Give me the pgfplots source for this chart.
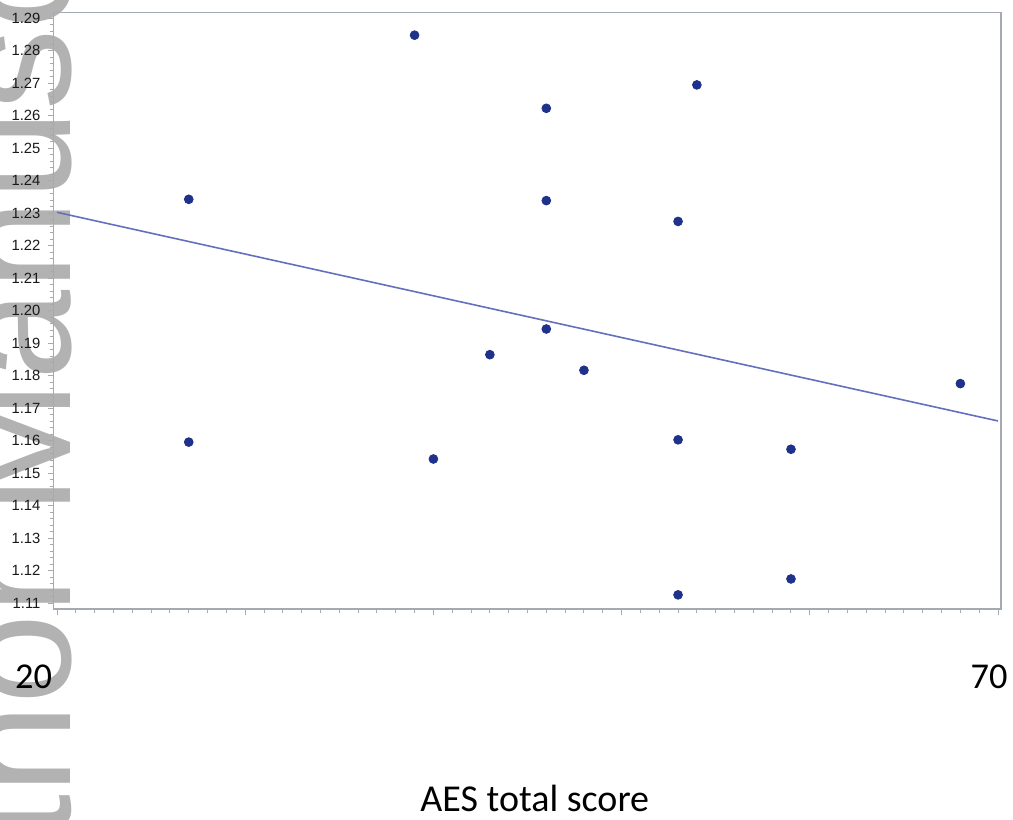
\documentclass[border=0pt]{standalone}
\usepackage{pgfplots}
\pgfplotsset{compat=1.18}
\usepackage{fontspec}
\newfontfamily\arialf{Liberation Sans}
\newfontfamily\calibrif{Carlito}

\definecolor{dotblue}{RGB}{30,50,140}
\definecolor{fitblue}{RGB}{100,112,190}
\definecolor{framegray}{RGB}{165,170,176}

\begin{document}
\begin{tikzpicture}[x=0.5pt,y=0.5pt]
  \path[use as bounding box] (0,0) rectangle (1013,820);
  \clip (0,0) rectangle (1013,820);

  % watermark behind the chart
  \node[rotate=90, anchor=base west, inner sep=0, text=black!30,
        font={\arialf\fontsize{81pt}{81pt}\selectfont}]
    at (70.5,-218) {Author Manuscript};

  \begin{axis}[
      at={(26.75pt,105.5pt)}, anchor=south west,
      scale only axis,
      width=473.75pt, height=298.15pt,
      xmin=19.814, xmax=70.16,
      ymin=1.10825, ymax=1.29172,
      axis line style={framegray, line width=0.8pt},
      tick pos=left,
      tick align=outside,
      major tick length=3pt,
      minor tick length=2pt,
      every tick/.style={framegray, line width=0.5pt},
      xtick={20,30,40,50,60,70},
      xticklabels={},
      minor x tick num=9,
      ytick distance=0.01,
      minor y tick num=4,
      yticklabel style={font={\arialf\fontsize{7.4pt}{8pt}\selectfont}, text=black!90,
        /pgf/number format/fixed, /pgf/number format/precision=2,
        /pgf/number format/fixed zerofill},
      /pgf/number format/assume math mode=true,
      xlabel={AES total score},
      xlabel style={font={\calibrif\fontsize{19pt}{21pt}\selectfont},
        at={(axis description cs:0.508,-0.3404)}, anchor=base},
    ]
    \addplot[only marks, mark=*, mark size=2.2pt, color=dotblue] coordinates {
      (27,1.2343) (27,1.1596) (39,1.2848) (40,1.1544) (43,1.1865)
      (46,1.2623) (46,1.2339) (46,1.1944) (48,1.1817)
      (53,1.2275) (53,1.1603) (53,1.1126) (54,1.2695)
      (59,1.1574) (59,1.1175) (68,1.1776)
    };
    \addplot[fitblue, line width=0.8pt] coordinates {
      (20,1.2303) (70,1.1661)
    };
  \end{axis}

  \node[font={\calibrif\fontsize{18.2pt}{20pt}\selectfont}] at (33.5,143) {20};
  \node[font={\calibrif\fontsize{18.2pt}{20pt}\selectfont}] at (989,143) {70};
\end{tikzpicture}
\end{document}
